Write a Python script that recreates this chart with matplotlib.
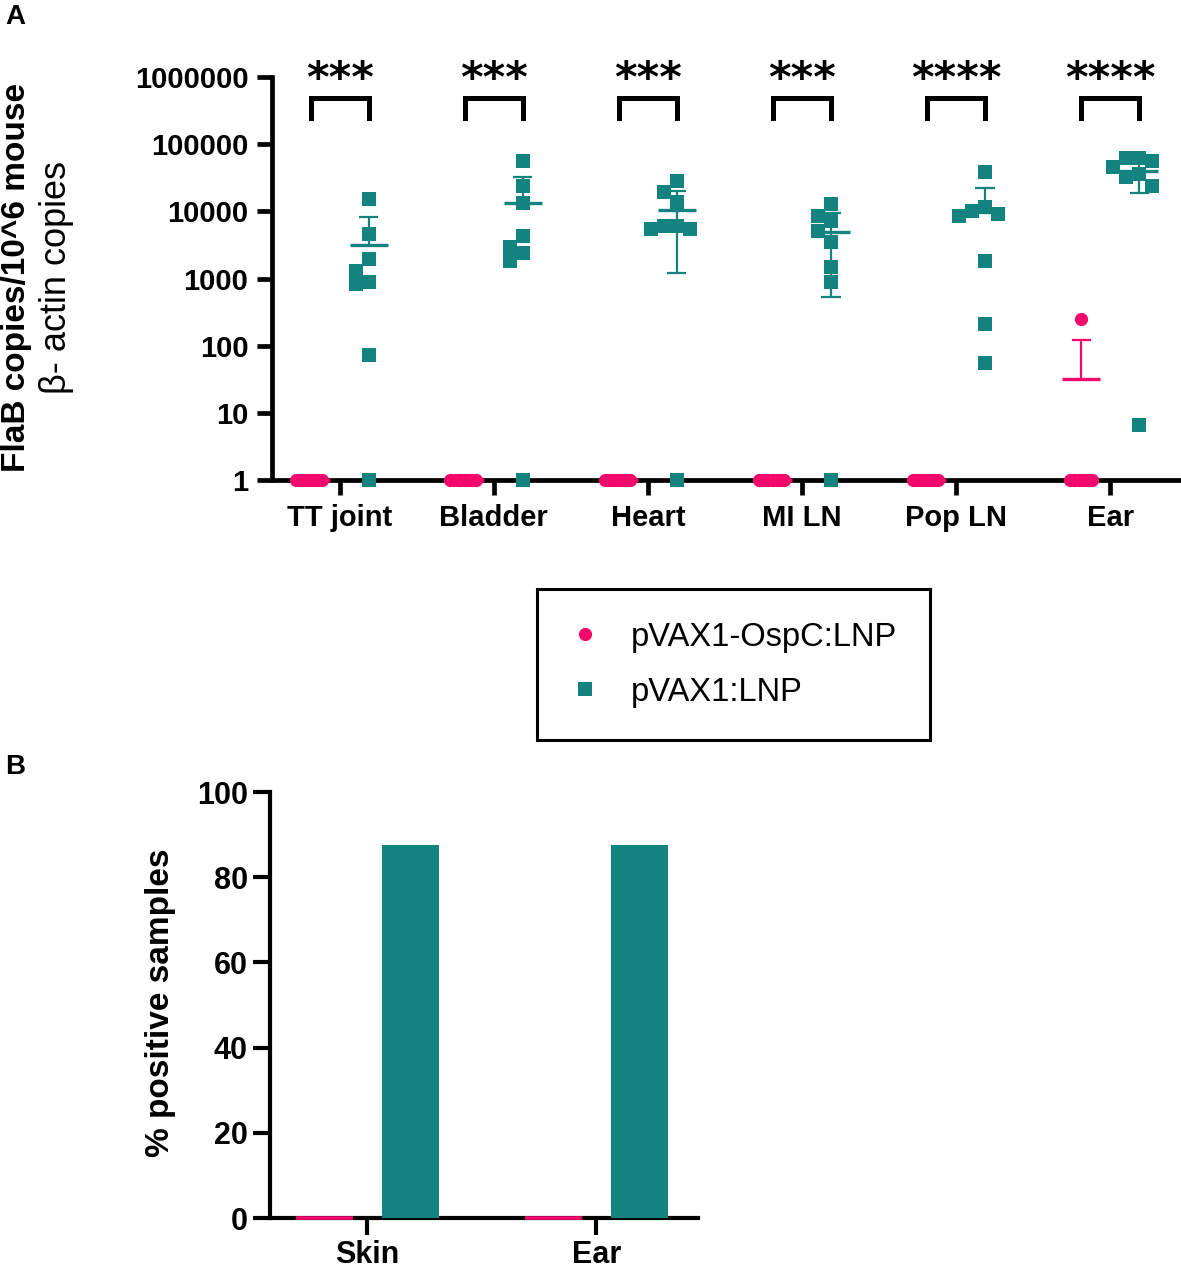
import numpy as np
import matplotlib.pyplot as plt
from matplotlib.lines import Line2D
from matplotlib.ticker import NullLocator

plt.rcParams['font.family'] = ['Liberation Sans', 'DejaVu Sans']

W, H = 1181, 1271

tissues = ['TT joint', 'Bladder', 'Heart', 'MI LN', 'Pop LN', 'Ear']
groups = ['pVAX1-OspC:LNP', 'pVAX1:LNP']
pink = '#f5086c'
teal = '#138380'

# FlaB copies / 10^6 beta-actin copies, 8 mice per group (negatives drawn at 1)
ospc_tt = [1, 1, 1, 1, 1, 1, 1, 1]
ospc_bladder = [1, 1, 1, 1, 1, 1, 1, 1]
ospc_heart = [1, 1, 1, 1, 1, 1, 1, 1]
ospc_miln = [1, 1, 1, 1, 1, 1, 1, 1]
ospc_popln = [1, 1, 1, 1, 1, 1, 1, 1]
ospc_ear = [250, 1, 1, 1, 1, 1, 1, 1]

vax_tt = [15500, 4600, 1950, 1310, 890, 830, 73, 1]
vax_bladder = [56600, 23600, 13300, 4260, 2900, 2400, 1830, 1]
vax_heart = [28600, 19200, 13600, 6100, 6100, 5450, 5450, 1]
vax_miln = [12900, 8560, 7230, 5160, 3460, 1470, 875, 1]
vax_popln = [38000, 11500, 10200, 9100, 8600, 1830, 210, 56]
vax_ear = [63000, 62000, 56000, 46000, 36000, 33000, 24000, 6.6]

stars = ['***', '***', '***', '***', '****', '****']

ytick_values = [1, 10, 100, 1000, 10000, 100000, 1000000]
ytick_labels = ['1', '10', '100', '1000', '10000', '100000', '1000000']

# panel B
pos_tissues = ['Skin', 'Ear']
pos_ospc = [0, 0]
pos_vax = [87.5, 87.5]


def swarm(ax, xc, vals, step, dmin):
    # simple beeswarm in pixel space
    vals = np.asarray(vals, float)
    pts = ax.transData.transform(np.column_stack([np.full(len(vals), xc), vals]))
    order = np.argsort(-vals, kind='stable')
    placed = []
    xs = np.zeros(len(vals))
    for i in order:
        px, py = pts[i]
        k = 0
        while True:
            m = (k + 1) // 2 * (-1 if k % 2 else 1)
            x = px + m * step
            if all(np.hypot(x - qx, py - qy) >= dmin - 1e-6 for qx, qy in placed):
                break
            k += 1
        placed.append((x, py))
        xs[i] = x
    return ax.transData.inverted().transform(np.column_stack([xs, pts[:, 1]]))[:, 0]


def mean_sd(ax, xc, vals, color):
    m = np.mean(vals)
    sd = np.std(vals, ddof=1)
    ax.hlines(m, xc - 0.123, xc + 0.123, color=color, lw=2.4, zorder=4, clip_on=False)
    if sd > 0:
        hi = m + sd
        lo = m - sd
        ax.vlines(xc, lo if lo > 0 else m, hi, color=color, lw=1.6, zorder=4)
        ax.hlines(hi, xc - 0.062, xc + 0.062, color=color, lw=1.6, zorder=4)
        if lo > 0:
            ax.hlines(lo, xc - 0.062, xc + 0.062, color=color, lw=1.6, zorder=4)


fig = plt.figure(figsize=(W / 100, H / 100), dpi=100)

# ---------- panel A ----------
axA = fig.add_axes([272 / W, (H - 480) / H, (W - 272) / W, (480 - 77) / H])
axA.set_yscale('log')
axA.set_ylim(1, 1e6)
axA.set_xlim(-0.44, 5.46)

ospc = [ospc_tt, ospc_bladder, ospc_heart, ospc_miln, ospc_popln, ospc_ear]
vax = [vax_tt, vax_bladder, vax_heart, vax_miln, vax_popln, vax_ear]
off = 0.188

for i in range(len(tissues)):
    xp = swarm(axA, i - off, ospc[i], 3.6, 3.6)
    axA.plot(xp, ospc[i], 'o', color=pink, ms=9.5, mew=0, zorder=3, clip_on=False)
    mean_sd(axA, i - off, ospc[i], pink)
    xt = swarm(axA, i + off, vax[i], 13, 13)
    axA.plot(xt, vax[i], 's', color=teal, ms=9.5, mew=0, zorder=3, clip_on=False)
    mean_sd(axA, i + off, vax[i], teal)
    # significance bracket
    axA.plot([i - off, i - off, i + off, i + off], [10**5.387, 10**5.685, 10**5.685, 10**5.387],
             color='black', lw=3.6, solid_joinstyle='miter', clip_on=False)
    axA.text(i, 10**5.78, stars[i], ha='center', va='baseline', fontsize=31,
             fontweight='bold', family='DejaVu Sans', clip_on=False)

axA.set_yticks(ytick_values)
axA.set_yticklabels(ytick_labels)
axA.yaxis.set_minor_locator(NullLocator())
axA.set_xticks(range(len(tissues)))
axA.set_xticklabels(tissues)

for s in ['top', 'right']:
    axA.spines[s].set_visible(False)
for s in ['left', 'bottom']:
    axA.spines[s].set_linewidth(3.4)
axA.tick_params(width=3.4, length=11, labelsize=21, pad=6)
for t in axA.get_xticklabels() + axA.get_yticklabels():
    t.set_fontweight('bold')

fig.text(17 / W, 1 - 278 / H, 'FlaB copies/10^6 mouse', rotation=90, ha='center',
         va='center', fontsize=24, fontweight='bold')
fig.text(57 / W, 1 - 277 / H, 'β- actin copies', rotation=90, ha='center',
         va='center', fontsize=26)

handles = [Line2D([], [], marker='o', ls='none', color=pink, ms=9.5, mew=0),
           Line2D([], [], marker='s', ls='none', color=teal, ms=9.5, mew=0)]
leg = fig.legend(handles, groups, loc='upper left', bbox_to_anchor=(537 / W, 1 - 589 / H),
                 bbox_transform=fig.transFigure, borderaxespad=0, frameon=True,
                 fancybox=False, edgecolor='black', framealpha=1, fontsize=23.5,
                 borderpad=1.0, handlelength=0.92, handletextpad=0.95, labelspacing=0.74)
leg.get_frame().set_linewidth(2.2)

# ---------- panel B ----------
axB = fig.add_axes([270 / W, (H - 1218) / H, (698 - 270) / W, (1218 - 792) / H])
xb = np.arange(len(pos_tissues))
axB.bar(xb - off, pos_ospc, width=0.249, color=pink, edgecolor=pink, lw=2.6, zorder=3, clip_on=False)
axB.bar(xb + off, pos_vax, width=0.249, color=teal, lw=0, zorder=3)
axB.set_xlim(-0.425, 1.444)
axB.set_ylim(0, 100)
axB.set_yticks([0, 20, 40, 60, 80, 100])
axB.set_xticks(xb)
axB.set_xticklabels(pos_tissues)
for s in ['top', 'right']:
    axB.spines[s].set_visible(False)
for s in ['left', 'bottom']:
    axB.spines[s].set_linewidth(3.0)
axB.tick_params(width=3.0, length=12, labelsize=22, pad=4)
for t in axB.get_xticklabels() + axB.get_yticklabels():
    t.set_fontweight('bold')

fig.text(160 / W, 1 - 1003 / H, '% positive samples', rotation=90, ha='center',
         va='center', fontsize=24, fontweight='bold')

fig.text(5 / W, 1 - 4 / H, 'A', ha='left', va='top', fontsize=20, fontweight='bold')
fig.text(5 / W, 1 - 754 / H, 'B', ha='left', va='top', fontsize=20, fontweight='bold')

fig.savefig('out.png', dpi=100)
